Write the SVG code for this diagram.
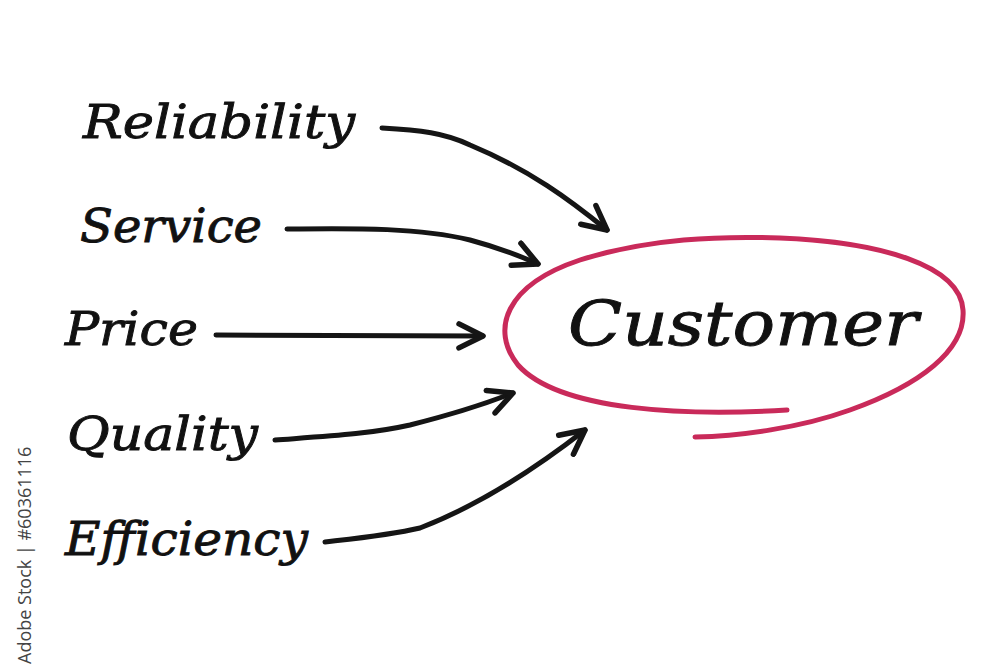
<svg xmlns="http://www.w3.org/2000/svg" width="1000" height="667" viewBox="0 0 1000 667">
<defs>
<style>
.lbl{font-family:"DejaVu Serif","Liberation Serif",serif;font-style:italic;fill:#111;stroke:#111;stroke-width:0.9;}
.con{fill:none;stroke:#151515;stroke-width:5;stroke-linecap:round;stroke-linejoin:round;}
.ring{fill:none;stroke:#c92a5a;stroke-width:5;stroke-linecap:round;}
</style>
<marker id="ah" markerUnits="userSpaceOnUse" viewBox="-30 -15 34 30" refX="0" refY="0" markerWidth="34" markerHeight="30" orient="auto">
<path d="M-24,-12 L0,0 L-24,12" fill="none" stroke="#151515" stroke-width="5.5" stroke-linecap="round" stroke-linejoin="round"/>
</marker>
</defs>
<rect width="1000" height="667" fill="#ffffff"/>
<g id="connectors">
<path class="con" marker-end="url(#ah)" d="M382,128 C420,130 445,133 470,145 C530,170 570,200 607,230"/>
<path class="con" marker-end="url(#ah)" d="M287,229 C360,228 420,228 470,240 C500,248 520,256 538,264"/>
<path class="con" marker-end="url(#ah)" d="M216,335 L483,336"/>
<path class="con" marker-end="url(#ah)" d="M275,440 C330,436 370,434 410,425 C450,415 485,404 513,393"/>
<path class="con" marker-end="url(#ah)" d="M325,542 C360,538 390,535 420,528 C480,505 540,465 585,430"/>
</g>
<g id="customer">
<path class="ring" d="M787,410 C690,416 560,412 518,365 C490,330 505,285 580,260 C650,238 720,236 780,238 C880,242 960,265 963,310 C966,350 920,385 850,410 C800,428 740,436 695,437"/>
<text class="lbl" x="568" y="345" font-size="62" textLength="350" lengthAdjust="spacingAndGlyphs">Customer</text>
</g>
<g id="reliability"><text class="lbl" x="83" y="138" font-size="46" textLength="272" lengthAdjust="spacingAndGlyphs">Reliability</text></g>
<g id="service"><text class="lbl" x="80" y="242" font-size="46" textLength="182" lengthAdjust="spacingAndGlyphs">Service</text></g>
<g id="price"><text class="lbl" x="65" y="345" font-size="46" textLength="133" lengthAdjust="spacingAndGlyphs">Price</text></g>
<g id="quality"><text class="lbl" x="67" y="450" font-size="46" textLength="191" lengthAdjust="spacingAndGlyphs">Quality</text></g>
<g id="efficiency"><text class="lbl" x="65" y="555" font-size="46" textLength="243" lengthAdjust="spacingAndGlyphs">Efficiency</text></g>
<text x="31" y="664" transform="rotate(-90 31 664)" font-family="Open Sans,sans-serif" font-size="18" fill="#444">Adobe Stock | #60361116</text>
</svg>
